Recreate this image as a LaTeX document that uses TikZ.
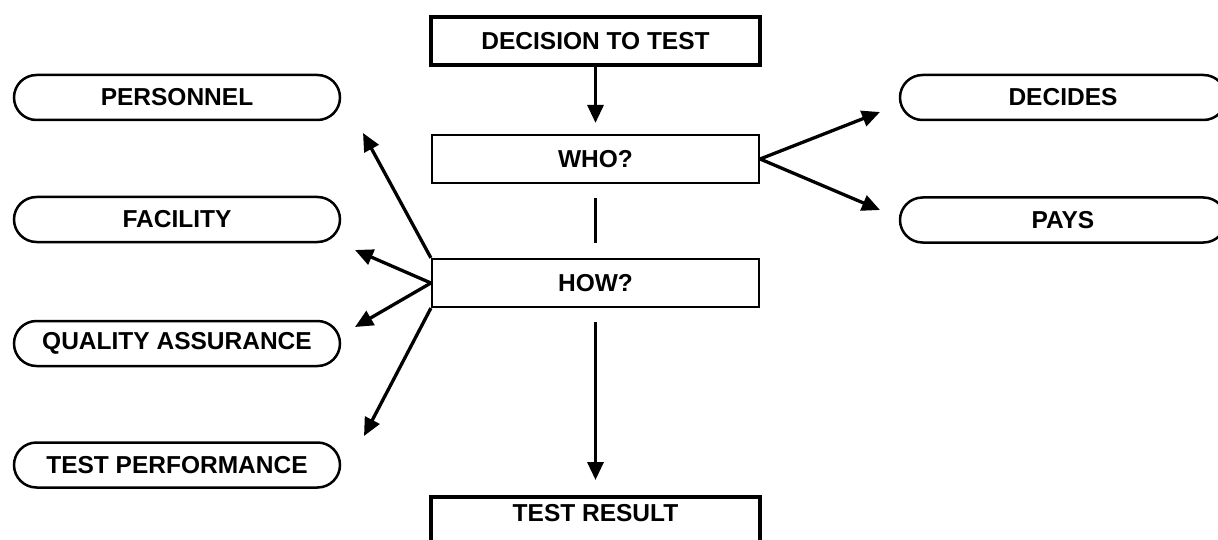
\documentclass[tikz,border=0pt]{standalone}
\usepackage{fontspec}
\setmainfont{Liberation Sans}
\usetikzlibrary{arrows.meta}
\begin{document}
\begin{tikzpicture}[x=1pt,y=-1pt,
  every node/.style={font=\fontsize{24.5}{29}\selectfont\bfseries, inner sep=0pt},
  mainbox/.style={draw, line width=4.3pt, minimum width=329pt, minimum height=48pt},
  qbox/.style={draw, line width=2.2pt, minimum width=327pt, minimum height=48pt},
  pill/.style={draw, line width=2.5pt, rounded corners=22.5pt, minimum width=326pt, minimum height=45pt},
  link/.style={line width=3.3pt, -{Triangle[length=18pt,width=16pt]}},
  plain/.style={line width=3.3pt},
]
\useasboundingbox (0,0) rectangle (1218,540);

% central flow
\node[mainbox] (decision) at (595.5,41) {DECISION TO TEST};
\node[qbox] (who) at (595.5,159) {WHO?};
\node[qbox] (how) at (595.5,283) {HOW?};
\node[mainbox, anchor=north, minimum height=0pt, text height=24.5pt, text depth=40pt] (result) at (595.5,495) {TEST RESULT};

% left-hand options
\node[pill] (personnel) at (177,97.5) {PERSONNEL};
\node[pill] (facility) at (177,219.5) {FACILITY};
\node[pill] (qa) at (177,343.5) {QUALITY ASSURANCE};
\node[pill] (perf) at (177,465) {TEST PERFORMANCE};

% right-hand options, running past the right edge
\node[pill] (decides) at (1063,97.5) {DECIDES};
\node[pill] (pays) at (1063,220) {PAYS};

% arrow tips stop short of the option pills
\coordinate (tPers) at (363,133);
\coordinate (tFac) at (355,250);
\coordinate (tQA) at (355,327);
\coordinate (tPerf) at (364,436);
\coordinate (tDec) at (880,112);
\coordinate (tPays) at (880,210);

\draw[link] (decision.south) -- ([yshift=11pt]who.north);
\draw[plain] ([yshift=-14pt]who.south) -- ([yshift=15pt]how.north);
\draw[link] ([yshift=-14pt]how.south) -- ([yshift=15pt]result.north);

\draw[link] (who.east) -- (tDec);
\draw[link] (who.east) -- (tPays);

\draw[link] (how.north west) -- (tPers);
\draw[link] (how.west) -- (tFac);
\draw[link] (how.west) -- (tQA);
\draw[link] (how.south west) -- (tPerf);
\end{tikzpicture}
\end{document}
